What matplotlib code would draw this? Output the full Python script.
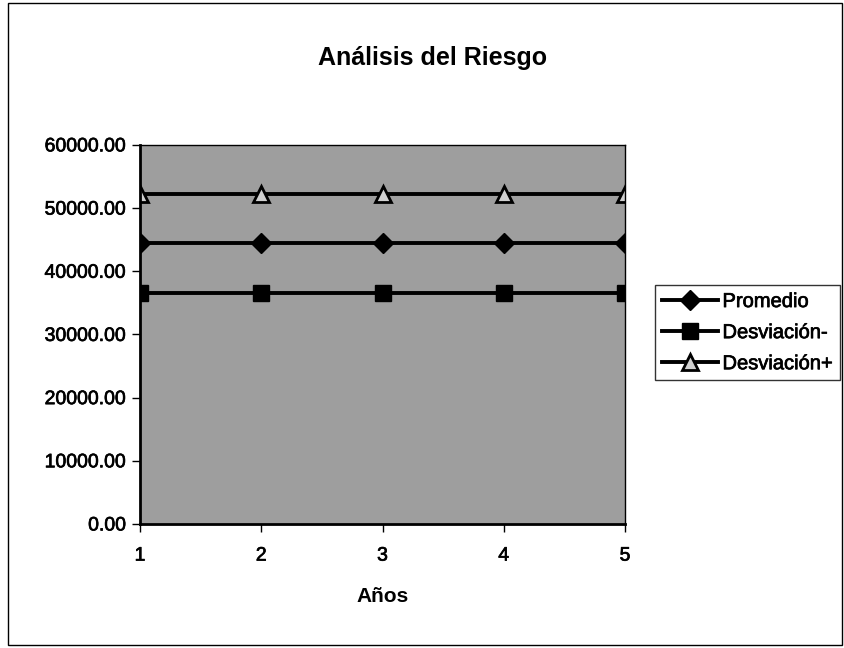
import matplotlib
matplotlib.use("Agg")
import matplotlib.pyplot as plt
from matplotlib.patches import Rectangle
import matplotlib.patheffects as pe

plt.rcParams['font.family'] = ['Liberation Sans', 'DejaVu Sans']

years = [1, 2, 3, 4, 5]
promedio = [44400, 44400, 44400, 44400, 44400]
desv_menos = [36500, 36500, 36500, 36500, 36500]
desv_mas = [52300, 52300, 52300, 52300, 52300]
yticks = [0, 10000, 20000, 30000, 40000, 50000, 60000]

fig = plt.figure(figsize=(8.45, 6.48), dpi=100)
fig.patch.set_facecolor('white')
fig.patches.append(Rectangle((0.010, 0.004), 0.986, 0.992, transform=fig.transFigure,
                             fill=False, edgecolor='black', linewidth=1.0))

ax = fig.add_axes([0.1657, 0.1914, 0.574, 0.585])
ax.set_facecolor('#9e9e9e')

ax.plot(years, promedio, color='black', lw=2.8, marker='D', ms=10, mfc='black', mec='black', label='Promedio')
ax.plot(years, desv_menos, color='black', lw=2.8, marker='s', ms=11, mfc='black', mec='black', label='Desviación-')
ax.plot(years, desv_mas, color='black', lw=2.8, marker='^', ms=11, mfc='#d0d0d0', mec='black', mew=2, label='Desviación+')

ax.set_xlim(1, 5)
ax.set_ylim(0, 60000)
ax.set_xticks(years)
ax.set_yticks(yticks)
ax.set_yticklabels([f"{v:.2f}" for v in yticks])
ax.tick_params(axis='both', labelsize=14, length=6, width=1, direction='out', colors='black')
ax.tick_params(axis='y', pad=4)
ax.tick_params(axis='x', pad=11)
stroke = [pe.withStroke(linewidth=0.5, foreground='black')]
for lbl in ax.get_xticklabels() + ax.get_yticklabels():
    lbl.set_path_effects(stroke)
for s in ax.spines.values():
    s.set_linewidth(2)
    s.set_color('black')
ax.spines['top'].set_linewidth(1)
ax.spines['right'].set_linewidth(1)

ax.set_xlabel('Años', fontsize=15, fontweight='bold', labelpad=16)
fig.text(0.512, 0.911, 'Análisis del Riesgo', ha='center', va='center', fontsize=18, fontweight='bold')

leg = fig.legend(loc='upper left', bbox_to_anchor=(655/845, 1 - 285/648), fontsize=14.5, frameon=True,
                 fancybox=False, edgecolor='black', handlelength=2.8, borderpad=0.35,
                 labelspacing=0.6, handletextpad=0.2, borderaxespad=0)
leg.get_frame().set_linewidth(1)
for t in leg.get_texts():
    t.set_path_effects(stroke)

fig.savefig('out.png', dpi=100)
